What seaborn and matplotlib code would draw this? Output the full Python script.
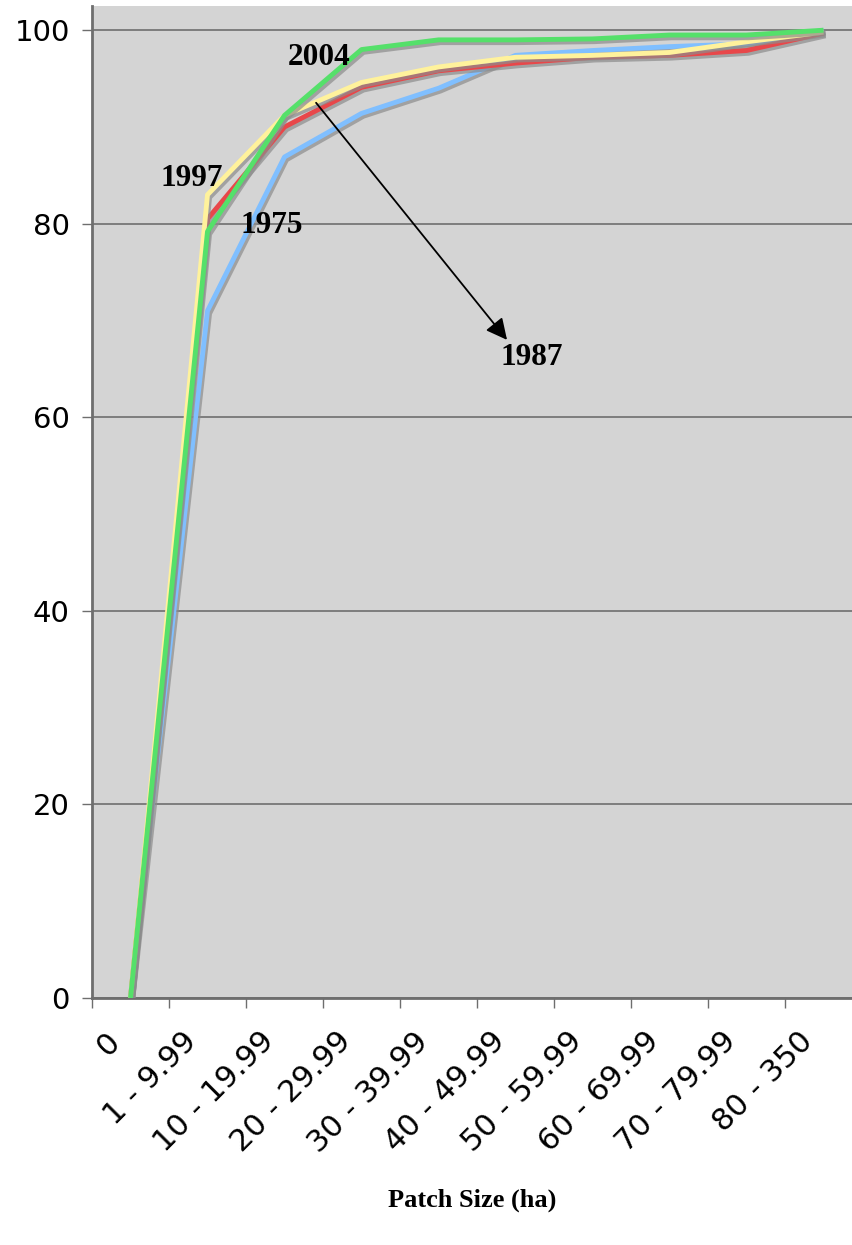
import numpy as np
import pandas as pd
import matplotlib
matplotlib.use("Agg")
import matplotlib.pyplot as plt
import matplotlib.patheffects as pe
import matplotlib.transforms as mtransforms
import seaborn as sns

# patch size classes (ha) and cumulative percentage per year
categories = ["0", "1 - 9.99", "10 - 19.99", "20 - 29.99", "30 - 39.99",
              "40 - 49.99", "50 - 59.99", "60 - 69.99", "70 - 79.99", "80 - 350"]
y1975 = [0, 71.0, 86.9, 91.4, 94.0, 97.4, 97.9, 98.3, 98.6, 100.0]
y1987 = [0, 80.5, 90.0, 94.1, 95.8, 96.6, 97.2, 97.4, 97.9, 99.7]
y1997 = [0, 83.0, 91.2, 94.6, 96.2, 97.2, 97.4, 97.7, 98.8, 99.8]
y2004 = [0, 79.2, 91.2, 98.0, 99.0, 99.0, 99.1, 99.5, 99.5, 100.0]
years = ["1975", "1987", "1997", "2004"]
colors = ["#80bfff", "#e8474a", "#fff29c", "#55e06a"]

df = pd.DataFrame({
    "pos": list(range(len(categories))) * 4,
    "value": y1975 + y1987 + y1997 + y2004,
    "year": np.repeat(years, len(categories)),
})

sns.set_style("white")
plt.rcParams["font.family"] = ["DejaVu Sans"]
plt.rcParams["text.color"] = "black"

W, H = 852, 1245
fig = plt.figure(figsize=(W / 100, H / 100), dpi=100)
ax = fig.add_axes([92 / W, 1 - 998 / H, 770 / W, 992 / H])
ax.set_facecolor("#d4d4d4")

sns.lineplot(data=df, x="pos", y="value", hue="year", palette=colors,
             linewidth=3.5, legend=False, ax=ax, zorder=3)
for ln in ax.lines:
    ln.set_solid_capstyle("butt")
    ln.set_path_effects([pe.SimpleLineShadow(offset=(1.5, -2), shadow_color="#8c8c8c", alpha=0.7),
                         pe.Normal()])

ax.set_xlim(-0.5, len(categories) - 0.5)
ax.set_ylim(0, 102.5)

# grid
ax.set_yticks(range(0, 101, 20))
ax.yaxis.grid(True, color="#6e6e6e", linewidth=1.2, zorder=1)
ax.set_axisbelow(True)
ax.tick_params(axis="y", direction="out", length=7, width=1, color="#6e6e6e",
               labelsize=21, pad=9, left=True, labelcolor="black")

# x ticks at category boundaries, labels at centers
ax.set_xticks(np.arange(-0.5, len(categories), 1))
ax.set_xticklabels([])
ax.set_xticks(range(len(categories)), minor=True)
ax.set_xticklabels(categories, minor=True, rotation=45, ha="right",
                   va="center", rotation_mode="anchor", fontsize=22)
ax.tick_params(axis="x", which="major", direction="out", length=7, width=1,
               color="#6e6e6e", bottom=True)
ax.tick_params(axis="x", which="minor", length=0, pad=28, labelcolor="black")
shift = mtransforms.ScaledTranslation(-15 / 100, 0, fig.dpi_scale_trans)
for lbl in ax.get_xticklabels(minor=True):
    lbl.set_transform(lbl.get_transform() + shift)

for s in ["top", "right"]:
    ax.spines[s].set_visible(False)
for s in ["left", "bottom"]:
    ax.spines[s].set_color("#6e6e6e")
    ax.spines[s].set_linewidth(2)

ax.set_xlabel("Patch Size (ha)", fontsize=19, fontweight="bold",
              family="Liberation Serif", va="center", color="black")
ax.xaxis.set_label_coords(380 / 770, -(1200 - 998) / 992)
ax.set_ylabel("")

lab = dict(fontsize=22.5, fontweight="bold", family="Liberation Serif",
           ha="center", va="center", zorder=5, color="black")
ax.text(2.45, 97.2, "2004", **lab)
ax.text(0.80, 84.7, "1997", **lab)
ax.text(1.83, 79.8, "1975", **lab)
ax.text(5.21, 66.2, "1987", **lab)
ax.annotate("", xy=(4.89, 68.0), xytext=(2.41, 92.5),
            arrowprops=dict(arrowstyle="-|>", color="black", lw=1.3,
                            mutation_scale=32, shrinkA=0, shrinkB=0), zorder=5)

fig.savefig("out.png", dpi=100)
